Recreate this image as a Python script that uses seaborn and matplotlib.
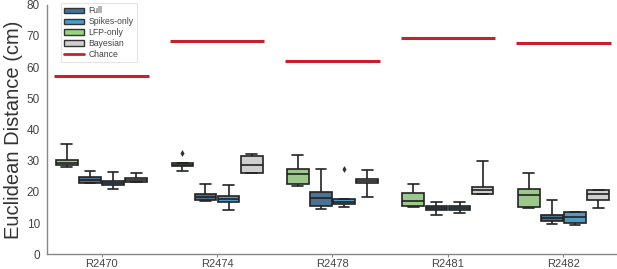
import numpy as np
import pandas as pd
import matplotlib
matplotlib.use("Agg")
import matplotlib.pyplot as plt
import seaborn as sns
from matplotlib.patches import Patch
from matplotlib.lines import Line2D

# ---- data ----
subjects = ["R2470", "R2474", "R2478", "R2481", "R2482"]
# each entry: [whisker low, Q1, median, Q3, whisker high]
lfp_only = [[28.1, 28.6, 29.4, 30.1, 35.4],
            [26.7, 28.3, 28.7, 29.2, 29.2],
            [21.9, 22.4, 25.6, 27.3, 31.8],
            [15.2, 15.5, 17.2, 19.5, 22.4],
            [14.7, 15.3, 19.1, 20.8, 26.2]]
full = [[22.7, 23.0, 23.8, 24.9, 26.8],
        [17.1, 17.3, 18.3, 19.2, 22.4],
        [14.4, 15.5, 17.9, 20.1, 27.4],
        [12.5, 14.3, 14.9, 15.6, 16.9],
        [9.8, 10.8, 11.7, 12.7, 17.4]]
spikes_only = [[21.0, 22.1, 23.0, 23.4, 26.3],
               [14.2, 16.9, 17.8, 18.7, 22.3],
               [15.1, 16.0, 16.9, 17.6, 17.6],
               [13.2, 14.1, 14.8, 15.6, 16.7],
               [9.4, 10.1, 11.9, 13.7, 13.7]]
bayesian = [[23.2, 23.3, 23.9, 24.6, 26.0],
            [26.1, 26.2, 28.7, 31.5, 32.0],
            [18.5, 22.8, 23.5, 24.2, 27.0],
            [19.3, 19.4, 20.6, 21.6, 30.0],
            [14.7, 17.4, 19.2, 20.6, 20.6]]
chance = [57.2, 68.3, 62.1, 69.3, 67.7]
outlier_subject = ["R2474", "R2478"]
outlier_method = ["LFP-only", "Spikes-only"]
outlier_value = [32.4, 27.2]

methods_plot_order = ["LFP-only", "Full", "Spikes-only", "Bayesian"]
legend_order = ["Full", "Spikes-only", "LFP-only", "Bayesian"]
colors = {"Full": "#41739a", "Spikes-only": "#3ea0d4",
          "LFP-only": "#97d381", "Bayesian": "#cfcfcf"}
chance_color = "#c8202b"

series = {"LFP-only": lfp_only, "Full": full,
          "Spikes-only": spikes_only, "Bayesian": bayesian}
rows = []
for m, vals in series.items():
    for s, v in zip(subjects, vals):
        for x in v:
            rows.append({"subject": s, "method": m, "dist": x})
df = pd.DataFrame(rows)
out_df = pd.DataFrame({"subject": outlier_subject, "method": outlier_method,
                       "dist": outlier_value})

sns.set_style("ticks")
plt.rcParams["font.family"] = ["Liberation Sans", "DejaVu Sans"]

fig = plt.figure(figsize=(6.17, 2.69), dpi=100)
ax = fig.add_axes([47 / 617, 14.7 / 269, 570.3 / 617, 249.6 / 269])

sns.boxplot(data=df, x="subject", y="dist", hue="method", order=subjects,
            hue_order=methods_plot_order, palette=colors, whis=(0, 100),
            linewidth=1.2, linecolor="#222222", gap=0.06, showfliers=False,
            legend=False, ax=ax)
sns.stripplot(data=out_df, x="subject", y="dist", hue="method", order=subjects,
              hue_order=methods_plot_order, palette={m: "#333333" for m in methods_plot_order},
              dodge=True, jitter=False, marker="d", size=3.5, legend=False, ax=ax)

xs = np.arange(len(subjects))
ax.hlines(chance, xs - 0.41, xs + 0.41, color=chance_color, linewidth=2.2)

ax.set_xlim(-0.472, 4.466)
ax.set_ylim(0, 80)
ax.set_yticks(range(0, 81, 10))
ax.set_xlabel("")
ax.set_ylabel("Euclidean Distance (cm)", fontsize=14.5, color="#333333", labelpad=3)
ax.tick_params(axis="y", length=0, labelsize=8.5, labelcolor="#444444", pad=5)
ax.tick_params(axis="x", length=2.5, labelsize=8, labelcolor="#444444", color="#888888", pad=1)
sns.despine(ax=ax)
for sp in ["left", "bottom"]:
    ax.spines[sp].set_color("#888888")
    ax.spines[sp].set_linewidth(1.0)

handles = [Patch(facecolor=colors[m], edgecolor="#333333", linewidth=1.0, label=m)
           for m in legend_order]
handles.append(Line2D([], [], color=chance_color, linewidth=2.0, label="Chance"))
leg = ax.legend(handles=handles, loc="upper left", bbox_to_anchor=(0.024, 1.005),
                fontsize=6.2, frameon=True, handlelength=2.3, handleheight=0.6,
                labelspacing=0.22, borderpad=0.35, handletextpad=0.6,
                borderaxespad=0.0, fancybox=False)
leg.get_frame().set_edgecolor("#dddddd")
leg.get_frame().set_linewidth(0.8)
for t in leg.get_texts():
    t.set_color("#444444")

fig.savefig("out.png", dpi=100)
